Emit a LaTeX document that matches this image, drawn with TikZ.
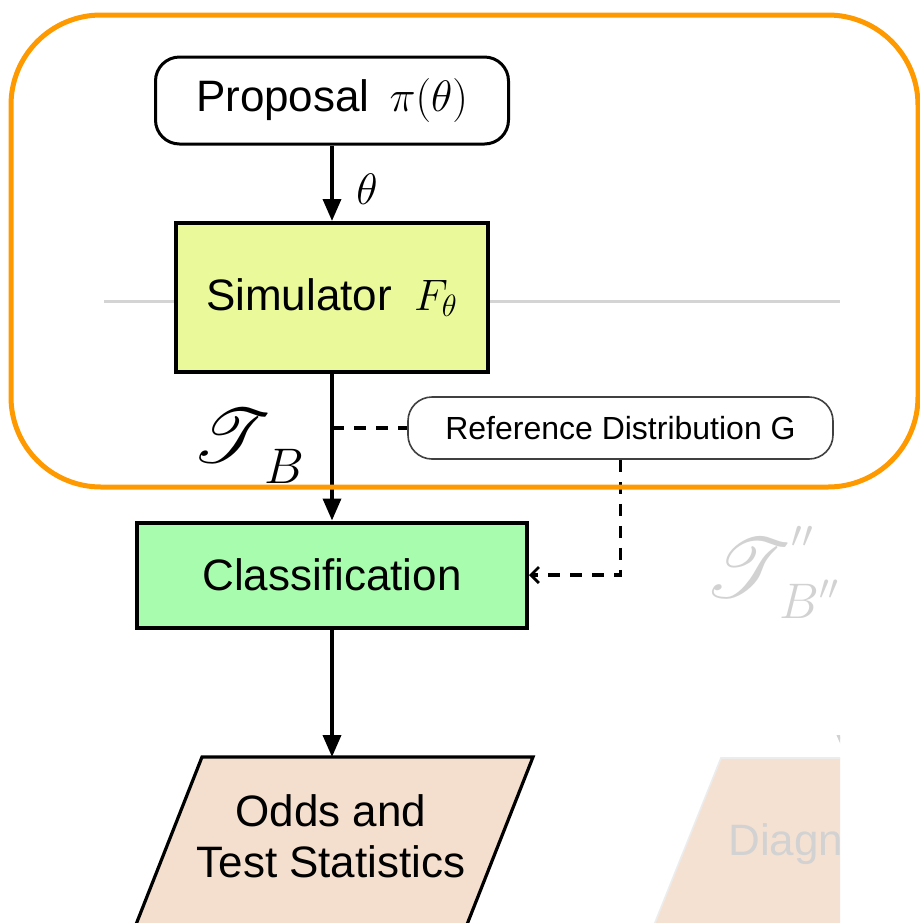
\RequirePackage{fix-cm}
\documentclass[tikz,border=0pt]{standalone}
\usepackage{fontspec}
\setmainfont{Liberation Sans}
\usepackage{mathrsfs}
% scalable script letters at any size
\DeclareFontFamily{U}{rsfs}{\skewchar\font127 }
\DeclareFontShape{U}{rsfs}{m}{n}{<-6> rsfs5 <6-8> rsfs7 <8-> rsfs10}{}
\usetikzlibrary{arrows.meta}

\definecolor{frameorange}{RGB}{255,153,0}
\definecolor{simfill}{RGB}{234,249,154}
\definecolor{clsfill}{RGB}{168,252,174}
\definecolor{oddsfill}{RGB}{244,222,205}
\definecolor{fadefill}{RGB}{245,225,210}
\definecolor{fadetext}{RGB}{210,210,210}
\definecolor{guide}{RGB}{212,212,212}

\tikzset{
  bigtext/.style={font=\fontsize{22}{25.5}\selectfont},
  stagebox/.style={draw, rectangle, line width=2pt, inner sep=0pt, bigtext},
  roundbox/.style={draw, rectangle, rounded corners=12pt, inner sep=0pt},
  flow/.style={-{Triangle[length=11pt,width=9pt]}, line width=1.8pt},
  dashflow/.style={line width=1.9pt, dash pattern=on 6pt off 5pt},
  scriptlabel/.style={anchor=base west, inner sep=0pt}
}

\begin{document}
\begin{tikzpicture}[x=0.5pt,y=-0.5pt]
\useasboundingbox (0,0) rectangle (920,923);
\clip (0,0) rectangle (920,923);
\fill[white] (0,0) rectangle (920,923);

% faded continuation on the right, cut off at x = 840
\begin{scope}
  \clip (0,0) rectangle (840,923);
  \coordinate (gl) at (104,301);
  \coordinate (gr) at (840,301);
  \draw[guide, line width=1.5pt] (gl) -- (gr);
  \fill[fadefill] (721,758) -- (900,758) -- (900,960) -- (640,960) -- cycle;
  \draw[gray!15, line width=0.8pt] (640,960) -- (721,758) -- (900,758);
  \node[anchor=base west, bigtext, text=fadetext, inner sep=0pt] (diag) at (728,855) {Diagn};
  \node[scriptlabel, text=fadetext] (tbb) at (704,597)
    {{\fontsize{42}{42}\selectfont$\mathscr{T}$}%
     \rlap{\raisebox{25pt}{\fontsize{19}{22}\selectfont$\prime\prime$}}%
     \hspace{-6pt}\raisebox{-10.5pt}{\fontsize{25}{28}\selectfont$B''$}};
  \coordinate (fa) at (846,690);
  \coordinate (fb) at (846,757);
  \draw[flow, fadetext] (fa) -- (fb);
\end{scope}

% main chain
\node[roundbox, line width=1.5pt, minimum width=176.5pt, minimum height=43.5pt, bigtext, fill=white]
  (prop) at (332,100.5) {Proposal\hspace{0.45em}$\pi(\theta)$};
\node[stagebox, fill=simfill, minimum width=156pt, minimum height=74.5pt]
  (sim) at (332,297.5) {Simulator\hspace{0.5em}$F_\theta$};
\node[stagebox, fill=clsfill, minimum width=195pt, minimum height=52.5pt]
  (cls) at (332,575) {Classification};
\node[roundbox, line width=0.8pt, draw=black!75, fill=white, minimum width=212.5pt, minimum height=31pt,
  font=\fontsize{16}{19}\selectfont]
  (ref) at (620.5,428) {Reference Distribution G};

% output parallelogram
\coordinate (oddstop) at (332,757);
\fill[oddsfill] (202,757) -- (533,757) -- (453,960) -- (122,960) -- cycle;
\draw[line width=1.6pt] (122,960) -- (202,757) -- (533,757) -- (453,960);
\node[bigtext, align=center, inner sep=0pt] (odds) at (331,836) {Odds and\\Test Statistics};

% connectors
\draw[flow] (prop) -- (sim) node[pos=0.58, right=8pt, font=\fontsize{22}{26}\selectfont] (thl) {$\theta$};
\draw[flow] (sim) -- (cls);
\draw[flow] (cls) -- (oddstop);
\coordinate (tap) at (332,428);
\draw[dashflow] (tap) -- (ref.west);
\draw[dashflow, -{Straight Barb[length=4pt,width=8pt,line width=1.4pt]}] (ref.south) |- (cls.east);

\node[scriptlabel] (tb) at (192,462)
  {{\fontsize{38}{40}\selectfont$\mathscr{T}$}%
   \hspace{-3.5pt}\raisebox{-10.5pt}{\fontsize{25}{28}\selectfont$B$}};

% highlight frame
\draw[frameorange, line width=2.5pt, rounded corners=45pt] (11,15) rectangle (918,487);
\end{tikzpicture}
\end{document}
